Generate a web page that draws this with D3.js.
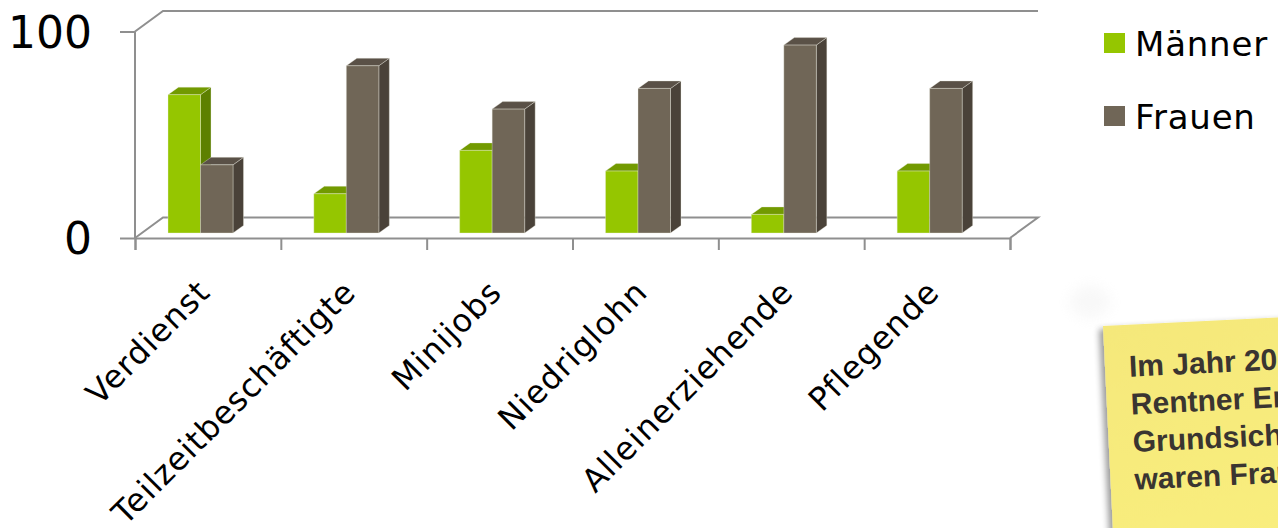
<!DOCTYPE html>
<html>
<head>
<meta charset="utf-8">
<script src="https://cdn.jsdelivr.net/npm/d3@7/dist/d3.min.js"></script>
<style>
  html, body { margin: 0; padding: 0; background: #ffffff; overflow: hidden; }
  svg { display: block; }
</style>
</head>
<body>
<svg id="chart" width="1278" height="528"></svg>
<script>
// Anteile von Männern und Frauen je Gruppe (in Prozent)
const categories = ["Verdienst", "Teilzeitbeschäftigte", "Minijobs", "Niedriglohn", "Alleinerziehende", "Pflegende"];
const seriesNames = ["Männer", "Frauen"];
const maenner = [67, 19, 40, 30, 9, 30];
const frauen = [33, 81, 60, 70, 91, 70];
const yTicks = [0, 100];
const noteLines = ["Im Jahr 2011 bezogen", "Rentner Ergänzende", "Grundsicherung,", "waren Frauen."];

const series = [maenner, frauen];
const colors = {
  "Männer": { front: "#95c600", top: "#729a00", side: "#5d8000" },
  "Frauen": { front: "#706657", top: "#5a5147", side: "#4a4239" }
};

const svg = d3.select("#chart");
const axisColor = "#8f8f8f";
const labelFont = "'DejaVu Sans', sans-serif";

// Vorderkante der Grafik
const x0 = d3.scaleBand().domain(categories).range([135, 1010]).paddingInner(0).paddingOuter(0);
const x1 = d3.scaleBand().domain(seriesNames).range([26, 91]).paddingInner(0);
const y = d3.scaleLinear().domain([0, 100]).range([238, 31.5]);
const xb = d3.scaleLinear().domain([0, categories.length]).range([135, 1010]);

// Tiefenversatz der Rückwand und der Säulen
const wall = { dx: 28, dy: -20.5 };
const barShift = { dx: 7, dy: -5 };
const barDepth = { dx: 10.5, dy: -7.5 };

const frame = svg.append("g").attr("fill", "none").attr("stroke", axisColor).attr("stroke-width", 2);
const xL = xb(0), xR = xb(categories.length);
const yTop = y(100), yBase = y(0);
// Seitenwand links und Rückwand oben
frame.append("path").attr("d", `M${xL},${yTop} L${xL + wall.dx},${yTop + wall.dy} L${xR + wall.dx},${yTop + wall.dy}`);
// Boden
frame.append("path").attr("d", `M${xL},${yBase} L${xL + wall.dx},${yBase + wall.dy} L${xR + wall.dx},${yBase + wall.dy} L${xR},${yBase}`);

// Säulen
const barsG = svg.append("g");
categories.forEach((cat, i) => {
  seriesNames.forEach((s, j) => {
    const v = series[j][i];
    const c = colors[s];
    const xl = x0(cat) + x1(s) + barShift.dx;
    const xr = xl + x1.bandwidth();
    const yb = y(0) + barShift.dy;
    const yt = y(v) + barShift.dy;
    const g = barsG.append("g").attr("stroke", "rgba(235,235,225,0.45)").attr("stroke-width", 0.8).attr("stroke-linejoin", "round");
    g.append("path").attr("fill", c.side)
      .attr("d", `M${xr},${yb} L${xr + barDepth.dx},${yb + barDepth.dy} L${xr + barDepth.dx},${yt + barDepth.dy} L${xr},${yt} Z`);
    g.append("path").attr("fill", c.top)
      .attr("d", `M${xl},${yt} L${xr},${yt} L${xr + barDepth.dx},${yt + barDepth.dy} L${xl + barDepth.dx},${yt + barDepth.dy} Z`);
    g.append("rect").attr("fill", c.front)
      .attr("x", xl).attr("y", yt).attr("width", xr - xl).attr("height", yb - yt);
  });
});

// Y-Achse
const yAxis = svg.append("g").attr("transform", `translate(${xL},0)`)
  .call(d3.axisLeft(y).tickValues(yTicks).tickSize(15).tickPadding(28).tickFormat(d3.format("d")));
yAxis.selectAll("path, line").attr("stroke", axisColor).attr("stroke-width", 2);
yAxis.select(".domain").attr("d", `M0,${yTop}V${yBase}`);
yAxis.selectAll("text").attr("font-family", labelFont).attr("font-size", 44).attr("fill", "#000").attr("dy", "0.36em");

// X-Achse: Teilstriche an den Kategoriegrenzen
const xTicksG = svg.append("g").attr("transform", `translate(0,${yBase})`)
  .call(d3.axisBottom(xb).tickValues(d3.range(categories.length + 1)).tickSize(12).tickFormat(""));
xTicksG.selectAll("path, line").attr("stroke", axisColor).attr("stroke-width", 2);

// Kategoriebeschriftungen, um 45° gedreht
const xLabels = svg.append("g").attr("transform", `translate(4,294)`)
  .call(d3.axisBottom(x0).tickSize(0).tickPadding(0));
xLabels.select(".domain").remove();
xLabels.selectAll("text")
  .attr("font-family", labelFont).attr("font-size", 32).attr("fill", "#000")
  .attr("letter-spacing", "1px")
  .attr("text-anchor", "end").attr("dy", 0).attr("y", 0)
  .attr("transform", "rotate(-45)");

// Legende
const legend = svg.append("g").attr("transform", "translate(1104,33)");
seriesNames.forEach((s, j) => {
  const row = legend.append("g").attr("transform", `translate(0,${j * 73})`);
  row.append("rect").attr("width", 21).attr("height", 20).attr("fill", colors[s].front);
  row.append("text").attr("x", 31).attr("y", 23).text(s)
    .attr("font-family", labelFont).attr("font-size", 34).attr("fill", "#000")
    .attr("letter-spacing", "0.8px");
});

// Notizzettel
const defs = svg.append("defs");
const blur = defs.append("filter").attr("id", "soft").attr("x", "-50%").attr("y", "-50%").attr("width", "200%").attr("height", "200%");
blur.append("feGaussianBlur").attr("stdDeviation", 7);
const shadow = defs.append("filter").attr("id", "noteShadow").attr("x", "-20%").attr("y", "-20%").attr("width", "140%").attr("height", "140%");
shadow.append("feGaussianBlur").attr("in", "SourceAlpha").attr("stdDeviation", 3).attr("result", "b");
shadow.append("feOffset").attr("in", "b").attr("dx", -4).attr("dy", 3).attr("result", "o");
shadow.append("feComponentTransfer").attr("in", "o").attr("result", "s")
  .append("feFuncA").attr("type", "linear").attr("slope", 0.4);
const merge = shadow.append("feMerge");
merge.append("feMergeNode").attr("in", "s");
merge.append("feMergeNode").attr("in", "SourceGraphic");
const grad = defs.append("linearGradient").attr("id", "noteFill").attr("x1", 0).attr("y1", 0).attr("x2", 0.3).attr("y2", 1);
grad.append("stop").attr("offset", 0).attr("stop-color", "#f5e87a");
grad.append("stop").attr("offset", 1).attr("stop-color", "#f9ee7e");

// leichter Schatten über dem Zettel
svg.append("ellipse").attr("cx", 1090).attr("cy", 302).attr("rx", 20).attr("ry", 16)
  .attr("fill", "#efefef").attr("opacity", 0.45).attr("filter", "url(#soft)");

const note = svg.append("g").attr("transform", "translate(1103,326) rotate(-2.8)");
note.append("rect").attr("x", 0).attr("y", 0).attr("width", 260).attr("height", 260)
  .attr("fill", "url(#noteFill)").attr("filter", "url(#noteShadow)");
note.append("g").selectAll("text").data(noteLines).join("text")
  .attr("x", 24).attr("y", (d, i) => 52 + i * 37.7)
  .attr("font-family", "'Liberation Sans', Arial, sans-serif").attr("font-weight", "bold")
  .attr("font-size", 30).attr("fill", "#3a3531")
  .text(d => d);
</script>
</body>
</html>
